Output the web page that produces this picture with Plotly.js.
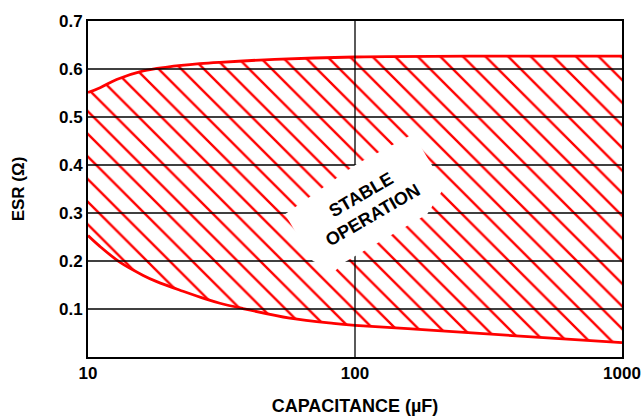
<!DOCTYPE html>
<html>
<head>
<meta charset="utf-8">
<script src="https://cdn.plot.ly/plotly-3.0.1.min.js"></script>
<style>html,body{margin:0;padding:0;background:#fff;}#chart{width:643px;height:418px;}</style>
</head>
<body>
<div id="chart"></div>
<script>
// Upper boundary of the stable region (ESR max vs capacitance)
const capUpper = [10, 11.1, 12.8, 16.1, 19.8, 26.2, 31.2, 50, 100, 300, 1000];
const esrUpper = [0.551, 0.561, 0.578, 0.596, 0.604, 0.611, 0.614, 0.620, 0.625, 0.627, 0.627];
// Lower boundary of the stable region (ESR min vs capacitance)
const capLower = [10, 11, 13.2, 16.1, 18.1, 22.7, 27.9, 31.2, 38, 57, 83, 100, 191, 415, 1000];
const esrLower = [0.253, 0.232, 0.197, 0.170, 0.157, 0.137, 0.120, 0.112, 0.101, 0.081, 0.070, 0.066, 0.056, 0.0435, 0.030];
// Axis ticks
const xTicks = [10, 100, 1000];
const xTickText = ['10', '100', '1000'];
const yTicks = [0.1, 0.2, 0.3, 0.4, 0.5, 0.6, 0.7];
const yTickText = ['0.1', '0.2', '0.3', '0.4', '0.5', '0.6', '0.7'];
const yGrid = [0.1, 0.2, 0.3, 0.4, 0.5, 0.6];
const xGrid = [100];
const regionLabel = 'STABLE<br>OPERATION';
const xTitle = '\u00a0\u00a0\u00a0\u00a0\u00a0CAPACITANCE (µF)';
const yTitle = 'ESR (Ω)';

const RED = '#ff0000';
const FONT = 'Liberation Sans, Arial, Helvetica, sans-serif';

const traces = [
  {
    x: capLower, y: esrLower, type: 'scatter', mode: 'lines',
    line: {color: RED, width: 2.8, shape: 'spline', smoothing: 1},
    hoverinfo: 'skip', showlegend: false
  },
  {
    x: capUpper, y: esrUpper, type: 'scatter', mode: 'lines',
    line: {color: RED, width: 2.8, shape: 'spline', smoothing: 1},
    fill: 'tonexty', fillcolor: 'rgba(255,255,255,0)',
    fillpattern: {shape: '\\', fgcolor: RED, bgcolor: 'rgba(255,255,255,0)', size: 16, solidity: 0.15},
    hoverinfo: 'skip', showlegend: false
  }
];

const shapes = [];
yGrid.forEach(v => shapes.push({type: 'line', xref: 'paper', yref: 'y', x0: 0, x1: 1, y0: v, y1: v,
  line: {color: '#000', width: 1.3}, layer: 'above'}));
xGrid.forEach(v => shapes.push({type: 'line', xref: 'x', yref: 'paper', x0: v, x1: v, y0: 0, y1: 1,
  line: {color: '#000', width: 1.3}, layer: 'above'}));
// white label patch
shapes.push({type: 'path', xref: 'paper', yref: 'paper', layer: 'above',
  path: 'M0.369,0.425 L0.504,0.575 L0.609,0.664 L0.668,0.507 L0.635,0.425 L0.478,0.280 L0.463,0.257 L0.421,0.286 Z',
  fillcolor: '#ffffff', line: {width: 0}});

const layout = {
  width: 643, height: 418,
  margin: {l: 88, r: 21, t: 18, b: 61},
  paper_bgcolor: '#fff', plot_bgcolor: '#fff',
  font: {family: FONT, size: 17, color: '#000', weight: 'bold'},
  showlegend: false,
  xaxis: {
    type: 'log', range: [1, 3], tickvals: xTicks, ticktext: xTickText,
    showgrid: false, zeroline: false, showline: true, mirror: true, linecolor: '#000', linewidth: 2,
    ticks: '', tickfont: {family: FONT, size: 17, weight: 'bold'},
    title: {text: xTitle, font: {family: FONT, size: 18, weight: 'bold'}, standoff: 17},
    automargin: false, fixedrange: true
  },
  yaxis: {
    range: [0, 0.7], tickvals: yTicks, ticktext: yTickText,
    showgrid: false, zeroline: false, showline: true, mirror: true, linecolor: '#000', linewidth: 2,
    ticks: '', tickfont: {family: FONT, size: 17, weight: 'bold'},
    title: {text: yTitle, font: {family: FONT, size: 17, weight: 'bold'}, standoff: 30},
    automargin: true, fixedrange: true
  },
  shapes: shapes,
  annotations: [{
    xref: 'paper', yref: 'paper', x: 0.523, y: 0.453, text: regionLabel, showarrow: false,
    textangle: -30, font: {family: FONT, size: 18, weight: 'bold', color: '#000'}, align: 'center'
  }]
};

Plotly.newPlot('chart', traces, layout, {staticPlot: true, displayModeBar: false});
</script>
</body>
</html>
